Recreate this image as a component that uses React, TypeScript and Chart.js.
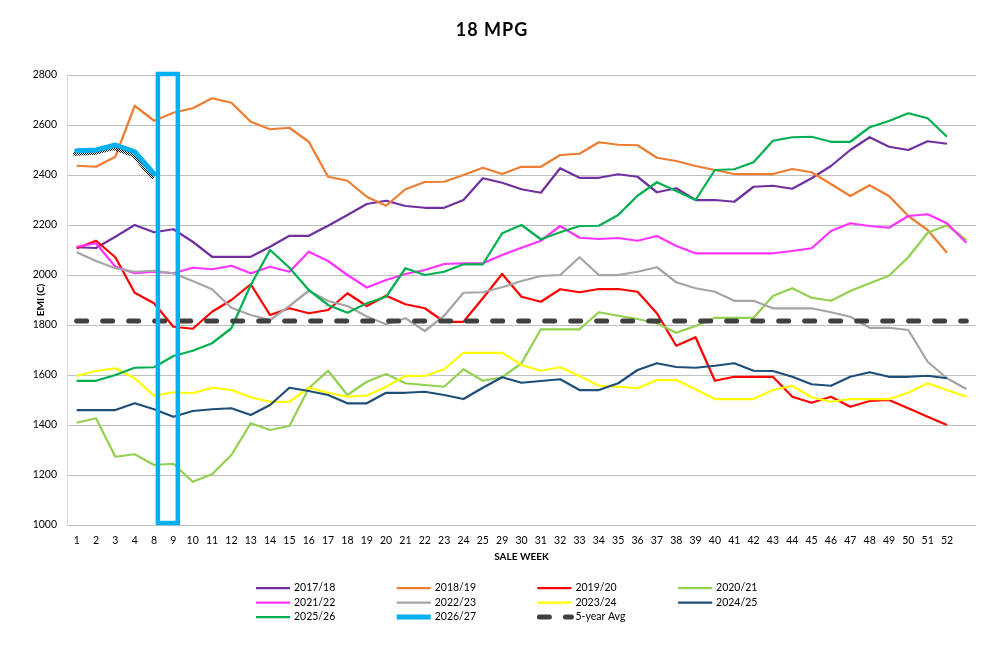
import { useEffect, useRef } from "react";
import { Chart, ChartConfiguration, registerables } from "chart.js";

Chart.register(...registerables);

// Sale weeks shown on the axis (last slot has no label)
const weeks = [
    "1", "2", "3", "4", "8", "9", "10", "11", "12", "13", "14", "15", "16", "17", "18", "19",
    "20", "21", "22", "23", "24", "25", "29", "30", "31", "32", "33", "34", "35", "36", "37", "38",
    "39", "40", "41", "42", "43", "44", "45", "46", "47", "48", "49", "50", "51", "52", "",
];

const s1718 = [
    2111, 2108, 2153, 2200, 2171, 2183, 2133, 2073, 2073, 2073, 2113, 2157, 2157, 2197, 2240, 2284,
    2297, 2276, 2269, 2269, 2300, 2387, 2369, 2343, 2329, 2427, 2389, 2389, 2403, 2393, 2331, 2347,
    2300, 2300, 2293, 2353, 2357, 2345, 2387, 2436, 2500, 2551, 2513, 2500, 2535, 2525, null,
];
const s1819 = [
    2437, 2433, 2473, 2677, 2617, 2649, 2667, 2707, 2689, 2613, 2583, 2589, 2533, 2393, 2377, 2313,
    2277, 2343, 2372, 2373, 2400, 2429, 2404, 2433, 2433, 2480, 2485, 2531, 2521, 2519, 2469, 2456,
    2436, 2420, 2404, 2404, 2404, 2424, 2411, 2364, 2316, 2359, 2316, 2236, 2180, 2089, null,
];
const s1920 = [
    2107, 2137, 2071, 1929, 1887, 1793, 1785, 1853, 1900, 1963, 1840, 1867, 1847, 1860, 1927, 1876,
    1917, 1883, 1867, 1813, 1813, 1907, 2004, 1913, 1893, 1943, 1931, 1944, 1944, 1933, 1847, 1717,
    1751, 1577, 1593, 1593, 1593, 1513, 1489, 1513, 1473, 1496, 1500, 1467, 1433, 1400, null,
];
const s2021 = [
    1409, 1427, 1273, 1283, 1240, 1245, 1173, 1203, 1280, 1407, 1380, 1396, 1547, 1617, 1520, 1573,
    1604, 1567, 1560, 1553, 1623, 1577, 1591, 1647, 1783, 1783, 1783, 1851, 1837, 1824, 1807, 1769,
    1796, 1829, 1829, 1829, 1916, 1947, 1909, 1897, 1936, 1967, 1997, 2071, 2169, 2199, 2140,
];
const s2122 = [
    2113, 2127, 2033, 2007, 2013, 2007, 2029, 2023, 2037, 2007, 2033, 2013, 2093, 2056, 2000, 1950,
    1980, 2004, 2020, 2044, 2047, 2047, 2080, 2109, 2137, 2196, 2149, 2144, 2148, 2137, 2156, 2116,
    2087, 2087, 2087, 2087, 2087, 2096, 2107, 2176, 2207, 2196, 2189, 2236, 2243, 2207, 2129,
];
const s2223 = [
    2091, 2056, 2027, 2013, 2017, 2007, 1976, 1943, 1869, 1840, 1820, 1876, 1937, 1896, 1876, 1834,
    1803, 1827, 1776, 1837, 1929, 1931, 1951, 1976, 1996, 2000, 2071, 2000, 2000, 2013, 2031, 1971,
    1947, 1933, 1897, 1897, 1867, 1867, 1867, 1851, 1833, 1789, 1789, 1780, 1653, 1587, 1544,
];
const s2324 = [
    1596, 1616, 1627, 1587, 1517, 1531, 1527, 1549, 1540, 1511, 1493, 1493, 1549, 1529, 1513, 1518,
    1553, 1597, 1596, 1623, 1689, 1689, 1689, 1640, 1617, 1631, 1596, 1557, 1553, 1547, 1580, 1580,
    1543, 1504, 1504, 1504, 1540, 1557, 1511, 1493, 1504, 1504, 1504, 1529, 1567, 1540, 1513,
];
const s2425 = [
    1460, 1460, 1460, 1487, 1463, 1433, 1456, 1463, 1467, 1440, 1480, 1549, 1536, 1520, 1487, 1487,
    1529, 1529, 1533, 1520, 1504, 1549, 1591, 1569, 1576, 1583, 1540, 1540, 1567, 1620, 1647, 1632,
    1629, 1637, 1647, 1617, 1616, 1593, 1563, 1557, 1593, 1611, 1593, 1593, 1597, 1587, null,
];
const s2526 = [
    1577, 1577, 1600, 1629, 1631, 1676, 1697, 1727, 1787, 1960, 2100, 2029, 1940, 1880, 1849, 1887,
    1913, 2027, 2000, 2013, 2043, 2043, 2167, 2200, 2143, 2171, 2196, 2197, 2240, 2317, 2371, 2336,
    2300, 2420, 2423, 2451, 2537, 2551, 2553, 2533, 2533, 2591, 2616, 2647, 2627, 2553, null,
];
const s2627 = [2497, 2500, 2520, 2493, 2404];
const fiveYearAvg = [
    1816, 1816, 1816, 1816, 1816, 1816, 1816, 1816, 1816, 1816, 1816, 1816, 1816, 1816, 1816, 1816,
    1816, 1816, 1816, 1816, 1816, 1816, 1816, 1816, 1816, 1816, 1816, 1816, 1816, 1816, 1816, 1816,
    1816, 1816, 1816, 1816, 1816, 1816, 1816, 1816, 1816, 1816, 1816, 1816, 1816, 1816, 1816,
];

const seasonNames = [
    "2017/18", "2018/19", "2019/20", "2020/21", "2021/22",
    "2022/23", "2023/24", "2024/25", "2025/26", "2026/27", "5-year Avg",
];
const seasonValues = [s1718, s1819, s1920, s2021, s2122, s2223, s2324, s2425, s2526, s2627, fiveYearAvg];
const seasonColors = [
    "#7030A0", "#ED7D31", "#FF0000", "#92D050", "#FF33FF",
    "#A5A5A5", "#FFFF00", "#1F4E79", "#00B050", "#00B0F0", "#404040",
];

// highlighted week span (box drawn around these two categories)
const highlightWeeks = ["8", "9"];
const yMin = 1000;
const yMax = 2800;

const FONT = "Lato, 'Open Sans', sans-serif";
const CURRENT = 9;
const AVG = 10;

function makeDotPattern(ctx: CanvasRenderingContext2D) {
    const c = document.createElement("canvas");
    c.width = 2;
    c.height = 2;
    const p = c.getContext("2d")!;
    p.fillStyle = "#000";
    p.fillRect(0, 0, 1, 1);
    p.fillRect(1, 1, 1, 1);
    return ctx.createPattern(c, "repeat");
}

export default function App() {
    const canvasRef = useRef<HTMLCanvasElement | null>(null);

    useEffect(() => {
        if (!canvasRef.current) return;

        // dotted shadow under the current season line
        const currentShadow = {
            id: "currentShadow",
            beforeDatasetDraw(chart: any, args: any) {
                if (args.index !== CURRENT) return;
                const { ctx } = chart;
                const pts = args.meta.data.filter((p: any) => !p.skip);
                if (pts.length < 2) return;
                ctx.save();
                ctx.strokeStyle = makeDotPattern(ctx);
                ctx.lineWidth = 4;
                ctx.lineJoin = "round";
                ctx.lineCap = "round";
                ctx.beginPath();
                pts.forEach((p: any, i: number) => {
                    if (i === 0) ctx.moveTo(p.x - 2, p.y + 3);
                    else ctx.lineTo(p.x - 2, p.y + 3);
                });
                ctx.stroke();
                ctx.restore();
            },
        };

        const highlightBox = {
            id: "highlightBox",
            afterDatasetsDraw(chart: any) {
                const { ctx, scales } = chart;
                const x = scales.x;
                const y = scales.y;
                const step = x.getPixelForValue(1) - x.getPixelForValue(0);
                const i0 = weeks.indexOf(highlightWeeks[0]);
                const i1 = weeks.indexOf(highlightWeeks[1]);
                const left = x.getPixelForValue(i0) + step * 0.2;
                const right = x.getPixelForValue(i1) + step * 0.23;
                const top = y.getPixelForValue(yMax) - 1;
                const bottom = y.getPixelForValue(yMin) - 2;
                ctx.save();
                ctx.strokeStyle = "#00B0F0";
                ctx.lineWidth = 4.5;
                ctx.strokeRect(left, top, right - left, bottom - top);
                ctx.restore();
            },
        };

        const texts = {
            id: "texts",
            afterDraw(chart: any) {
                const { ctx, chartArea } = chart;
                ctx.save();
                ctx.fillStyle = "#000";
                ctx.textBaseline = "middle";

                // title
                ctx.textAlign = "center";
                ctx.font = `bold 18px ${FONT}`;
                (ctx as any).letterSpacing = "1px";
                ctx.fillText("18 MPG", 492, 30);
                (ctx as any).letterSpacing = "0px";

                // axis titles
                ctx.font = `bold 10px ${FONT}`;
                ctx.fillText("SALE WEEK", (chartArea.left + chartArea.right) / 2, 557);
                ctx.save();
                ctx.translate(41, (chartArea.top + chartArea.bottom) / 2);
                ctx.rotate(-Math.PI / 2);
                ctx.fillText("EMI (C)", 0, 0);
                ctx.restore();

                // legend, 4 columns
                ctx.textAlign = "left";
                ctx.font = `10.5px ${FONT}`;
                chart.data.datasets.forEach((ds: any, i: number) => {
                    const col = i % 4;
                    const row = Math.floor(i / 4);
                    const lx = 256 + col * 140.7;
                    const ly = 588 + row * 14.5;
                    ctx.save();
                    ctx.strokeStyle = ds.borderColor;
                    ctx.lineWidth = i === AVG ? 5 : i === CURRENT ? 5 : 2.25;
                    ctx.lineCap = i === AVG ? "round" : "butt";
                    ctx.setLineDash(i === AVG ? [10, 16] : []);
                    ctx.beginPath();
                    ctx.moveTo(lx + (i === AVG ? 2 : 0), ly);
                    ctx.lineTo(lx + 34, ly);
                    ctx.stroke();
                    ctx.restore();
                    ctx.fillText(ds.label, lx + 38, ly);
                });
                ctx.restore();
            },
        };

        const datasets = seasonNames.map((name, i) => ({
            label: name,
            data: seasonValues[i],
            borderColor: seasonColors[i],
            backgroundColor: seasonColors[i],
            borderWidth: i === CURRENT ? 5 : i === AVG ? 5 : 2.25,
            borderDash: i === AVG ? [10, 16] : [],
            borderCapStyle: (i === AVG || i === CURRENT ? "round" : "butt") as CanvasLineCap,
            borderJoinStyle: "round" as CanvasLineJoin,
            pointRadius: 0,
            tension: 0,
            fill: false,
            spanGaps: false,
            order: 20 - i,
        }));

        const config: ChartConfiguration<"line", (number | null)[], string> = {
            type: "line",
            data: { labels: weeks, datasets },
            options: {
                responsive: true,
                maintainAspectRatio: false,
                animation: false,
                devicePixelRatio: 1,
                layout: { padding: { left: 0, top: 75, right: 11, bottom: 0 } },
                plugins: {
                    legend: { display: false },
                    tooltip: { enabled: false },
                    title: { display: false },
                },
                scales: {
                    x: {
                        type: "category",
                        offset: true,
                        grid: { display: false, drawTicks: false },
                        border: { display: false },
                        ticks: {
                            autoSkip: false,
                            maxRotation: 0,
                            padding: 9,
                            color: "#000",
                            font: { family: FONT, size: 10.5 },
                        },
                        afterFit: (s: any) => { s.height = 123; },
                    },
                    y: {
                        min: yMin,
                        max: yMax,
                        grid: { color: "#C0C0C0", lineWidth: 1, drawTicks: false },
                        border: { display: true, color: "#D9D9D9" },
                        ticks: {
                            stepSize: 200,
                            padding: 10,
                            color: "#000",
                            font: { family: FONT, size: 10.5 },
                            callback: (v: any) => String(v),
                        },
                        afterFit: (s: any) => { s.width = 67; },
                    },
                },
            },
            plugins: [currentShadow, highlightBox, texts],
        };

        const chart = new Chart(canvasRef.current, config);
        return () => chart.destroy();
    }, []);

    return (
        <div style={{ position: "absolute", left: 0, top: 0, width: 987, height: 648, background: "#fff" }}>
            <canvas ref={canvasRef}></canvas>
        </div>
    );
}
